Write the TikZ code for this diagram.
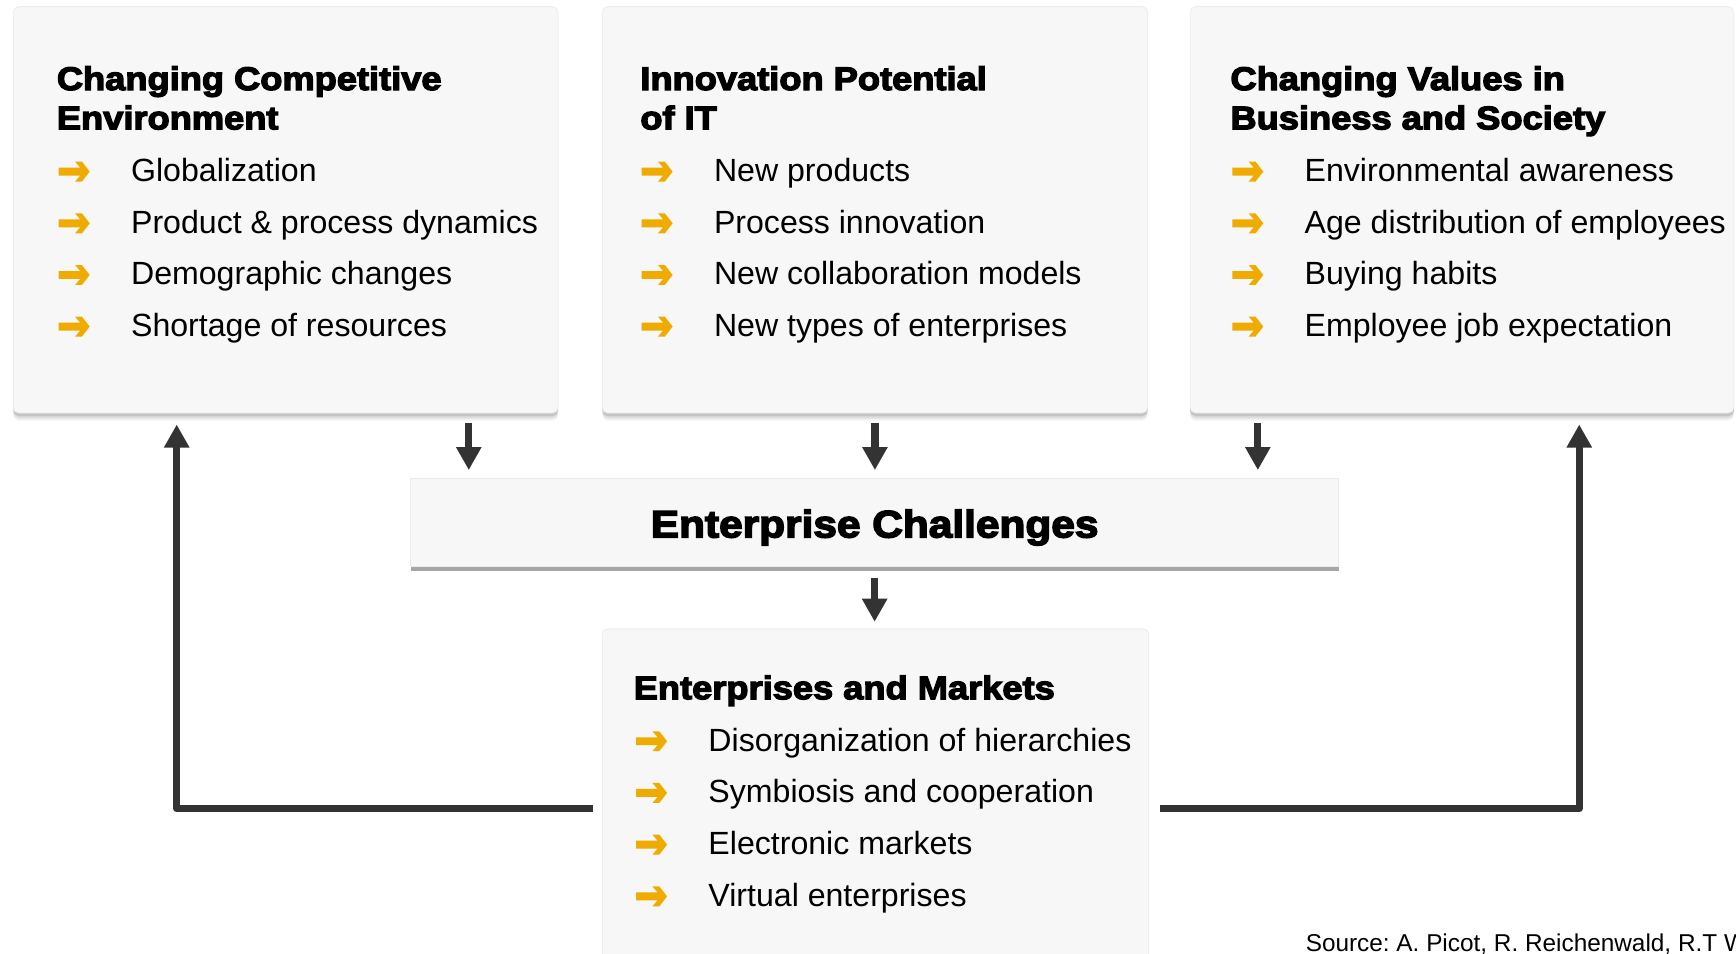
\documentclass[tikz,border=0pt]{standalone}
\usepackage{fontspec}
\setmainfont{Liberation Sans}
\newfontfamily\headfont{Liberation Sans}[BoldFeatures={FakeBold=4,FakeStretch=1.11}]
\usetikzlibrary{arrows.meta,fit}
\definecolor{boxfill}{HTML}{F7F7F7}
\definecolor{sapgold}{HTML}{F0AB00}
\definecolor{linegray}{HTML}{333333}
\definecolor{stripgray}{HTML}{A6A6A6}
\frenchspacing
\tikzset{
 softshadow/.style={
   preaction={fill=black,opacity=0.05,transform canvas={yshift=-3.5pt}},
   preaction={fill=black,opacity=0.08,transform canvas={yshift=-2.5pt}},
   preaction={fill=black,opacity=0.12,transform canvas={yshift=-1.5pt}}},
 panel/.style={softshadow, fill=boxfill, draw=black!7, line width=0.4pt, rounded corners=2.5pt, inner sep=0pt},
 ecbox/.style={preaction={fill=stripgray, transform canvas={yshift=-2pt}}, fill=boxfill, draw=black!8, line width=0.4pt, inner sep=0pt},
 conn/.style={draw=linegray, line width=3.3pt, line join=round, -{Triangle[width=10.8pt,length=10.4pt]}},
 head/.style={font=\headfont\bfseries\fontsize{14.75pt}{17pt}\selectfont, anchor=base west, inner sep=0pt, text=black},
 body/.style={font=\fontsize{14.5pt}{17pt}\selectfont, anchor=base west, inner sep=0pt, text=black},
 pics/bitem/.style={code={
   \fill[sapgold] (0,-3.6) -- (19.4,-3.6) -- (14.8,-9) -- (21,-9) -- (28,0) -- (21,9) -- (14.8,9) -- (19.4,3.6) -- (0,3.6) -- cycle;
   \node[body] (-t) at (65,9) {#1};
 }},
}
\begin{document}
\begin{tikzpicture}[x=0.5pt,y=-0.5pt]
\useasboundingbox (0,0) rectangle (1568,861);
\clip (0,0) rectangle (1568,861);
% boxes
\node[panel, fit={(12,6) (504,373)}] (b1) {};
\node[panel, fit={(544,6) (1036.5,373)}] (b2) {};
\node[panel, fit={(1075,6) (1566,373)}] (b3) {};
\node[ecbox, fit={(371,432) (1209,512)}] (ec) {};
\node[panel, fit={(544,568) (1037.5,900)}] (em) {};
% box 1
\node[head] (b1h1) at (51,81.3) {Changing Competitive};
\node[head] (b1h2) at (51,116.8) {Environment};
\pic (b1i1) at (53,155) {bitem={Globalization}};
\pic (b1i2) at (53,201.7) {bitem={Product \& process dynamics}};
\pic (b1i3) at (53,248.4) {bitem={Demographic changes}};
\pic (b1i4) at (53,295) {bitem={Shortage of resources}};
% box 2
\node[head] (b2h1) at (578,81.3) {Innovation Potential};
\node[head] (b2h2) at (578,116.8) {of IT};
\pic (b2i1) at (579.5,155) {bitem={New products}};
\pic (b2i2) at (579.5,201.7) {bitem={Process innovation}};
\pic (b2i3) at (579.5,248.4) {bitem={New collaboration models}};
\pic (b2i4) at (579.5,295) {bitem={New types of enterprises}};
% box 3
\node[head] (b3h1) at (1111,81.3) {Changing Values in};
\node[head] (b3h2) at (1111,116.8) {Business and Society};
\pic (b3i1) at (1113,155) {bitem={Environmental awareness}};
\pic (b3i2) at (1113,201.7) {bitem={Age distribution of employees}};
\pic (b3i3) at (1113,248.4) {bitem={Buying habits}};
\pic (b3i4) at (1113,295) {bitem={Employee job expectation}};
% enterprise challenges
\node[font=\headfont\bfseries\fontsize{17.25pt}{20pt}\selectfont, anchor=base, inner sep=0pt] (ect) at (790,485.4) {Enterprise Challenges};
% bottom box
\node[head] (emh) at (572,631.5) {Enterprises and Markets};
\pic (emi1) at (574.5,669.5) {bitem={Disorganization of hierarchies}};
\pic (emi2) at (574.5,716.2) {bitem={Symbiosis and cooperation}};
\pic (emi3) at (574.5,762.9) {bitem={Electronic markets}};
\pic (emi4) at (574.5,809.6) {bitem={Virtual enterprises}};
% source
\node[font=\fontsize{11pt}{13pt}\selectfont, anchor=base west, inner sep=0pt] (src) at (1179,859.5) {Source: A. Picot, R. Reichenwald, R.T W};
% connectors
\coordinate (ecTop) at ([shift={(0,-7)}]ec.north);
\coordinate (emTop) at ([shift={(0,-6)}]em.north);
\draw[conn] ([shift={(-81,9)}]b1.south east) coordinate (s1) -- (s1 |- ecTop);
\draw[conn] ([shift={(0,9)}]b2.south) coordinate (s2) -- (s2 |- ecTop);
\draw[conn] ([shift={(61.5,9)}]b3.south west) coordinate (s3) -- (s3 |- ecTop);
\draw[conn] ([shift={(0,10)}]ec.south) coordinate (s4) -- (s4 |- emTop);
\draw[conn] ([shift={(-8,162.6)}]em.north west) -| ([shift={(148,10)}]b1.south west);
\draw[conn] ([shift={(10,162.6)}]em.north east) -| ([shift={(-140,10)}]b3.south east);
\end{tikzpicture}
\end{document}
